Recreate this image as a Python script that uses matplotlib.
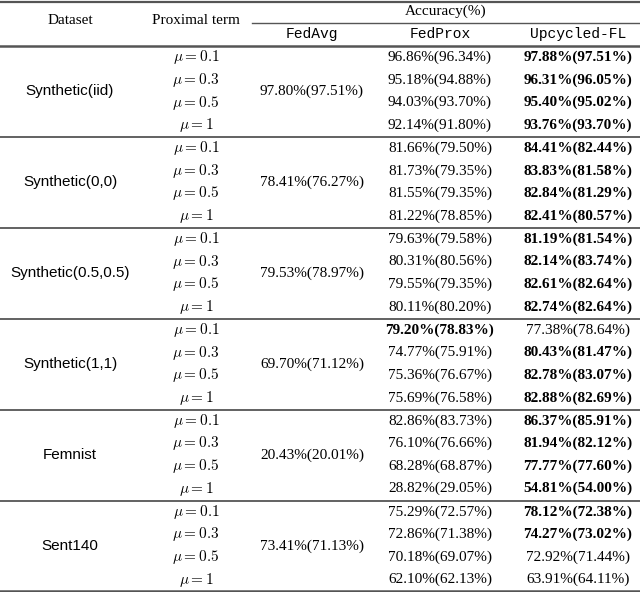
import matplotlib
matplotlib.use("Agg")
import matplotlib.pyplot as plt

# ---------------------------------------------------------------------------
# Table data
# ---------------------------------------------------------------------------
datasets = ["Synthetic(iid)", "Synthetic(0,0)", "Synthetic(0.5,0.5)",
            "Synthetic(1,1)", "Femnist", "Sent140"]
mus = ["0.1", "0.3", "0.5", "1"]
fedavg = ["97.80%(97.51%)", "78.41%(76.27%)", "79.53%(78.97%)",
          "69.70%(71.12%)", "20.43%(20.01%)", "73.41%(71.13%)"]
fedprox = [
    ["96.86%(96.34%)", "95.18%(94.88%)", "94.03%(93.70%)", "92.14%(91.80%)"],
    ["81.66%(79.50%)", "81.73%(79.35%)", "81.55%(79.35%)", "81.22%(78.85%)"],
    ["79.63%(79.58%)", "80.31%(80.56%)", "79.55%(79.35%)", "80.11%(80.20%)"],
    ["79.20%(78.83%)", "74.77%(75.91%)", "75.36%(76.67%)", "75.69%(76.58%)"],
    ["82.86%(83.73%)", "76.10%(76.66%)", "68.28%(68.87%)", "28.82%(29.05%)"],
    ["75.29%(72.57%)", "72.86%(71.38%)", "70.18%(69.07%)", "62.10%(62.13%)"],
]
upcycled = [
    ["97.88%(97.51%)", "96.31%(96.05%)", "95.40%(95.02%)", "93.76%(93.70%)"],
    ["84.41%(82.44%)", "83.83%(81.58%)", "82.84%(81.29%)", "82.41%(80.57%)"],
    ["81.19%(81.54%)", "82.14%(83.74%)", "82.61%(82.64%)", "82.74%(82.64%)"],
    ["77.38%(78.64%)", "80.43%(81.47%)", "82.78%(83.07%)", "82.88%(82.69%)"],
    ["86.37%(85.91%)", "81.94%(82.12%)", "77.77%(77.60%)", "54.81%(54.00%)"],
    ["78.12%(72.38%)", "74.27%(73.02%)", "72.92%(71.44%)", "63.91%(64.11%)"],
]
# which cell is set in bold: 0 = none, 1 = FedProx, 2 = Upcycled-FL
bold = [
    [2, 2, 2, 2],
    [2, 2, 2, 2],
    [2, 2, 2, 2],
    [1, 2, 2, 2],
    [2, 2, 2, 2],
    [2, 2, 0, 0],
]

plt.rcParams["mathtext.fontset"] = "cm"
serif = "Liberation Serif"
sans = "Liberation Sans"
mono = "Liberation Mono"
fs = 11

fig = plt.figure(figsize=(6.4, 5.92), dpi=100)
ax = fig.add_axes([0, 0, 1, 1])
ax.set_xlim(0, 640)
ax.set_ylim(592, 0)
ax.axis("off")

col_x = [70, 196, 312, 440, 578]
line_col = "#555555"

# header
ax.axhline(1.5, color=line_col, lw=1.6)
ax.text(col_x[0], 21, "Dataset", ha="center", va="center", family=serif, fontsize=fs)
ax.text(col_x[1], 21, "Proximal term", ha="center", va="center", family=serif, fontsize=fs)
ax.text(446, 11, "Accuracy(%)", ha="center", va="center", family=serif, fontsize=fs)
ax.plot([252, 640], [22.5, 22.5], color=line_col, lw=1.0)
for x, name in zip(col_x[2:], ["FedAvg", "FedProx", "Upcycled-FL"]):
    ax.text(x, 34, name, ha="center", va="center", family=mono, fontsize=fs - 0.5)
ax.axhline(46, color=line_col, lw=1.8)

row_h = 22.6
group_top = 46
group_h = 4 * row_h + 0.5
for g, ds in enumerate(datasets):
    top = group_top + g * group_h
    ys = [top + row_h * (i + 0.5) for i in range(4)]
    mid = top + group_h / 2
    ax.text(col_x[0], mid, ds, ha="center", va="center", family=sans, fontsize=fs)
    ax.text(col_x[2], mid, fedavg[g], ha="center", va="center", family=serif, fontsize=fs)
    for i, y in enumerate(ys):
        ax.text(col_x[1], y, r"$\mu = %s$" % mus[i], ha="center", va="center", fontsize=fs)
        ax.text(col_x[3], y, fedprox[g][i], ha="center", va="center", family=serif,
                fontsize=fs, weight="bold" if bold[g][i] == 1 else "normal")
        ax.text(col_x[4], y, upcycled[g][i], ha="center", va="center", family=serif,
                fontsize=fs, weight="bold" if bold[g][i] == 2 else "normal")
    ax.axhline(top + group_h, color=line_col, lw=1.8 if g == len(datasets) - 1 else 1.3)

fig.savefig("out.png", dpi=100)
